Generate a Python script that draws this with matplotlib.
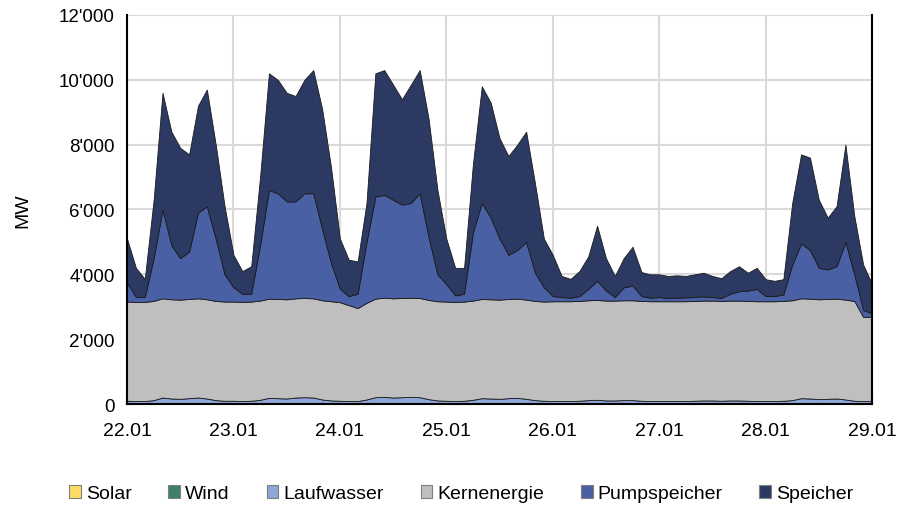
import numpy as np
import matplotlib.pyplot as plt
from matplotlib.patches import Patch

# ------------------ DATA (MW, 2-hour steps, 22.01 00:00 .. 29.01 00:00) ------------------
day_labels = ["22.01", "23.01", "24.01", "25.01", "26.01", "27.01", "28.01", "29.01"]
series_names = ["Solar", "Wind", "Laufwasser", "Kernenergie", "Pumpspeicher", "Speicher"]

solar = [0] * 85
wind = [10] * 85
laufwasser = [
    90, 80, 80, 110, 190, 160, 150, 170, 190, 160, 110, 90,
    90, 80, 90, 120, 180, 170, 160, 190, 200, 190, 130, 100,
    90, 80, 80, 130, 200, 210, 190, 200, 210, 200, 140, 100,
    90, 80, 90, 120, 170, 160, 150, 170, 180, 150, 110, 90,
    80, 80, 80, 90, 110, 120, 100, 100, 110, 110, 90, 80,
    80, 80, 80, 80, 90, 100, 100, 90, 100, 100, 90, 80,
    80, 80, 90, 110, 170, 160, 140, 150, 160, 130, 90, 80, 80,
]
kernenergie = [
    3060, 3060, 3060, 3060, 3060, 3060, 3060, 3060, 3060, 3060, 3060, 3060,
    3060, 3060, 3060, 3060, 3060, 3060, 3060, 3060, 3060, 3060, 3060, 3060,
    3040, 2960, 2870, 2980, 3040, 3060, 3060, 3060, 3060, 3060, 3060, 3060,
    3060, 3060, 3060, 3060, 3060, 3060, 3060, 3060, 3060, 3060, 3060, 3060,
    3080, 3080, 3080, 3080, 3080, 3080, 3080, 3080, 3080, 3080, 3080, 3080,
    3080, 3080, 3080, 3080, 3080, 3080, 3080, 3080, 3080, 3080, 3080, 3080,
    3080, 3080, 3080, 3080, 3080, 3080, 3080, 3080, 3080, 3080, 3080, 2600, 2600,
]
pumpspeicher = [
    590, 150, 150, 1320, 2740, 1670, 1280, 1460, 2640, 2870, 1920, 840,
    440, 250, 240, 1710, 3350, 3260, 3020, 2990, 3230, 3240, 2200, 1180,
    410, 280, 440, 1880, 3150, 3170, 3040, 2880, 2920, 3230, 1940, 830,
    540, 200, 240, 2110, 2960, 2520, 1880, 1360, 1500, 1780, 870, 440,
    160, 130, 110, 150, 350, 590, 310, 110, 400, 450, 150, 110,
    130, 100, 110, 120, 120, 130, 110, 90, 210, 290, 320, 380,
    160, 160, 200, 1100, 1690, 1500, 970, 910, 1000, 1780, 820, 210, 110,
]
speicher = [
    1350, 900, 560, 1800, 3600, 3500, 3400, 3000, 3300, 3600, 2900, 2100,
    1000, 700, 850, 2100, 3600, 3500, 3350, 3250, 3500, 3800, 3700, 2950,
    1550, 1120, 1000, 1200, 3800, 3850, 3550, 3250, 3650, 3800, 3650, 2600,
    1400, 850, 800, 2100, 3600, 3550, 3100, 3050, 3250, 3400, 2750, 1500,
    1270, 650, 580, 770, 1000, 1700, 1000, 650, 900, 1200, 740, 720,
    700, 680, 690, 660, 700, 730, 650, 610, 700, 770, 550, 650,
    520, 470, 470, 1900, 2750, 2850, 2100, 1600, 1850, 3000, 1800, 1400, 900,
]

colors = ["#FFD966", "#3E7F6E", "#8FA6D8", "#BFBFBF", "#4A60A5", "#2C3A63"]

# ------------------ PLOT ------------------
plt.rcParams['font.family'] = ['Liberation Sans', 'DejaVu Sans']

hours = np.arange(len(speicher)) * 2

fig = plt.figure(figsize=(8.99, 5.06), dpi=100)
ax = fig.add_axes([0.1413, 0.1996, 0.8287, 0.7688])

ax.stackplot(hours, solar, wind, laufwasser, kernenergie, pumpspeicher, speicher,
             colors=colors, edgecolor="#1a1a1a", linewidth=0.6, zorder=2)

ax.set_xlim(0, 168)
ax.set_ylim(0, 12000)
ax.set_xticks(np.arange(0, 169, 24))
ax.set_xticklabels(day_labels)
yt = np.arange(0, 12001, 2000)
ax.set_yticks(yt)
ax.set_yticklabels([f"{v:,}".replace(",", "'") for v in yt])

ax.grid(True, color="#D9D9D9", linewidth=1.5, zorder=0)
ax.set_axisbelow(True)
ax.tick_params(axis="x", direction="in", length=5, width=1.5, labelsize=14, pad=13)
ax.tick_params(axis="y", length=0, labelsize=13.5, pad=9)
ax.set_ylabel("MW", fontsize=14, labelpad=20)

for side in ["left", "bottom", "right"]:
    ax.spines[side].set_linewidth(1.5)
    ax.spines[side].set_color("black")
ax.spines["top"].set_visible(False)

handles = [Patch(facecolor=c, edgecolor="#7f7f7f", linewidth=0.8) for c in colors]
fig.legend(handles, series_names, loc="center", bbox_to_anchor=(0.513, 0.022), ncol=6,
           frameon=False, fontsize=14, handlelength=0.6, handleheight=0.6,
           handletextpad=0.25, columnspacing=1.9)

plt.savefig("out.png", dpi=100)
